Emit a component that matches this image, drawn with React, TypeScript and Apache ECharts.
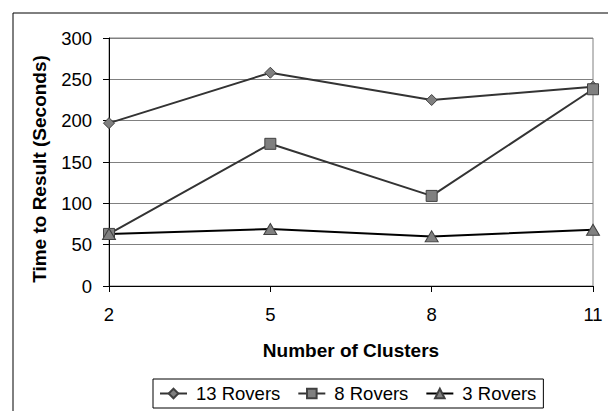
import React, { useEffect, useRef } from "react";
import * as echarts from "echarts";

const clusters = ["2", "5", "8", "11"];
const rovers13 = [197, 258, 225, 241];
const rovers8 = [63, 172, 109, 238];
const rovers3 = [63, 69, 60, 68];
const seriesNames = ["13 Rovers", "8 Rovers", "3 Rovers"];

export default function App() {
  const ref = useRef<HTMLDivElement>(null);
  useEffect(() => {
    if (!ref.current) return;
    const chart = echarts.init(ref.current, undefined, { renderer: "svg" });
    const font = "Arial, 'Liberation Sans', sans-serif";
    const markerStyle = { color: "#808080", borderColor: "#404040", borderWidth: 1 };
    chart.setOption({
      animation: false,
      backgroundColor: "#ffffff",
      textStyle: { fontFamily: font },
      grid: {
        left: 109,
        right: 15,
        top: 38,
        bottom: 125,
        show: true,
        borderColor: "#808080",
        borderWidth: 1,
        backgroundColor: "transparent",
      },
      graphic: [
        {
          type: "rect",
          left: 10.5,
          top: 10.5,
          shape: { x: 0, y: 0, width: 640, height: 440 },
          style: { fill: "none", stroke: "#000", lineWidth: 1 },
          silent: true,
          z: -1,
        },
      ],
      xAxis: {
        type: "category",
        data: clusters,
        boundaryGap: false,
        name: "Number of Clusters",
        nameLocation: "middle",
        nameGap: 55,
        nameTextStyle: { fontWeight: "bold", fontSize: 19, color: "#000", fontFamily: font },
        axisLine: { lineStyle: { color: "#000", width: 1 } },
        axisTick: { show: true, length: 6, inside: false, lineStyle: { color: "#000" }, alignWithLabel: true },
        axisLabel: { margin: 19, fontSize: 18.5, color: "#000", fontFamily: font },
        splitLine: { show: false },
      },
      yAxis: {
        type: "value",
        min: 0,
        max: 300,
        interval: 50,
        name: "Time to Result (Seconds)",
        nameLocation: "middle",
        nameGap: 60,
        nameRotate: 90,
        nameTextStyle: {
          fontWeight: "bold",
          fontSize: 19,
          color: "#000",
          fontFamily: font,
          padding: [0, 14, 0, 0],
        },
        axisLine: { show: true, lineStyle: { color: "#000", width: 1 } },
        axisTick: { show: true, length: 6, lineStyle: { color: "#000" } },
        axisLabel: { margin: 17, fontSize: 18.5, color: "#000", fontFamily: font },
        splitLine: { show: true, lineStyle: { color: "#808080", width: 1 } },
      },
      legend: {
        data: seriesNames,
        left: 153,
        top: 379,
        orient: "horizontal",
        padding: [5, 7, 5, 6],
        itemGap: 17,
        itemWidth: 27,
        itemHeight: 12,
        borderColor: "#000",
        borderWidth: 1,
        textStyle: { fontSize: 18.5, color: "#000", fontFamily: font, padding: [0, 0, 0, 4] },
      },
      series: [
        {
          name: seriesNames[0],
          type: "line",
          data: rovers13,
          symbol: "diamond",
          symbolSize: [11, 11],
          lineStyle: { color: "#333333", width: 2 },
          itemStyle: markerStyle,
        },
        {
          name: seriesNames[1],
          type: "line",
          data: rovers8,
          symbol: "rect",
          symbolSize: [11, 11],
          lineStyle: { color: "#333333", width: 2 },
          itemStyle: markerStyle,
        },
        {
          name: seriesNames[2],
          type: "line",
          data: rovers3,
          symbol: "triangle",
          symbolSize: [13, 11],
          lineStyle: { color: "#000000", width: 2 },
          itemStyle: markerStyle,
        },
      ],
    });
    return () => chart.dispose();
  }, []);
  return (
    <div
      ref={ref}
      style={{ position: "absolute", left: 0, top: 0, width: 608, height: 411 }}
    />
  );
}
